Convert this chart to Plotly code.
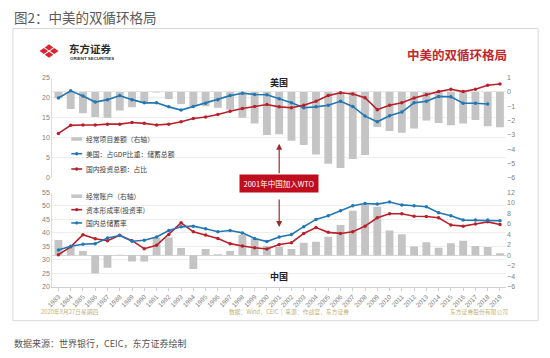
import plotly.graph_objects as go

W, H = 550, 358

# ---------------- data ----------------
years = list(range(1983, 2020))
year_labels = [str(y) for y in years]

# Top panel (United States)
us_current_account = [-0.45, -1.2, -1.48, -1.75, -1.8, -1.3, -1.07, -0.8, -0.05,
                      -0.5, -0.85, -1.0, -1.0, -1.1, -1.25, -1.8, -2.2, -3.0,
                      -2.95, -3.4, -3.7, -4.37, -5.0, -5.3, -4.67, -4.4, -2.44,
                      -2.73, -2.85, -2.55, -2.0, -2.16, -2.32, -2.2, -1.96, -2.4, -2.46]
us_saving = [19.9, 21.7, 20.4, 18.9, 19.5, 20.5, 19.5, 18.7, 18.7,
             17.7, 16.9, 17.8, 18.6, 19.5, 20.5, 21.1, 20.8, 20.7,
             19.7, 18.7, 17.5, 17.7, 18.1, 19.1, 17.8, 15.4, 14.0,
             15.5, 16.4, 18.7, 19.1, 20.3, 20.2, 18.6, 18.6, 18.4, None]
us_investment = [11.1, 13.1, 13.2, 13.2, 13.4, 13.4, 13.8, 13.6, 13.2,
                 13.4, 14.0, 14.8, 15.2, 15.8, 16.6, 17.3, 17.8, 18.3,
                 17.7, 17.5, 18.1, 19.1, 20.5, 21.2, 20.9, 20.0, 17.0,
                 18.1, 18.7, 19.9, 20.7, 21.5, 22.1, 21.5, 22.1, 23.1, 23.4]

# Bottom panel (China)
cn_current_account = [2.9, 1.7, 0.8, -3.5, -2.4, 0.1, -1.2, -1.2, 3.4,
                      3.4, 1.4, -2.6, 1.2, 0.2, 0.8, 3.9, 3.2, 1.8,
                      1.65, 1.2, 2.4, 2.6, 3.55, 5.8, 8.5, 9.7, 9.3,
                      4.75, 4.0, 1.7, 2.5, 1.46, 2.3, 2.8, 1.8, 1.6, 0.38]
cn_investment = [31.9, 34.8, 39.3, 37.8, 37.1, 39.1, 37.1, 34.1, 35.4,
                 39.4, 43.75, 40.4, 39.25, 37.9, 36.0, 35.1, 34.5, 34.0,
                 35.7, 36.35, 39.8, 42.0, 40.2, 39.8, 40.4, 42.5, 45.6,
                 47.1, 47.1, 46.2, 46.1, 45.6, 42.9, 42.5, 43.3, 44.1, 43.1]
cn_saving = [33.6, 35.0, 35.75, 36.0, 38.1, 39.0, 36.9, 37.25, 38.5,
             40.9, 42.25, 42.5, 41.5, 40.4, 40.9, 40.0, 37.9, 36.75,
             38.5, 39.4, 42.3, 45.0, 46.4, 48.2, 50.1, 50.9, 50.7,
             51.5, 50.4, 50.1, 49.7, 47.5, 46.4, 44.75, 44.75, 44.75, 44.5]

top_legend = ["经常项目差额（右轴）", "美国：占GDP比重：储蓄总额", "国内投资总额：占比"]
bottom_legend = ["经常账户（右轴）", "资本形成率(投资率)", "国内总储蓄率"]

# ---------------- styles ----------------
BLUE = "#2477b3"
RED = "#b8202b"
GRAY_BAR = "#c4c4c4"
CJK = "Noto Sans CJK SC"
TICKFONT = dict(family="Liberation Sans", size=7, color="#7f7f7f")


def X(px):
    return px / W


def Y(py):
    return 1 - py / H


x_dom = [X(46.8), X(505.6)]
top_dom = [Y(177.5), Y(75)]
bot_dom = [Y(288.3), Y(192.3)]
xr = [years[0] - 0.5, years[-1] + 0.5]

fig = go.Figure()

# top panel
fig.add_trace(go.Bar(x=years, y=us_current_account, xaxis="x", yaxis="y",
                     marker=dict(color=GRAY_BAR, line=dict(width=0)), width=0.64,
                     showlegend=False))
fig.add_trace(go.Scatter(x=years, y=us_saving, xaxis="x", yaxis="y2", mode="lines+markers",
                         line=dict(color=BLUE, width=1.6), marker=dict(size=3.5, color=BLUE),
                         showlegend=False))
fig.add_trace(go.Scatter(x=years, y=us_investment, xaxis="x", yaxis="y2", mode="lines+markers",
                         line=dict(color=RED, width=1.6), marker=dict(size=3.5, color=RED),
                         showlegend=False))
# bottom panel
fig.add_trace(go.Bar(x=years, y=cn_current_account, xaxis="x2", yaxis="y3",
                     marker=dict(color=GRAY_BAR, line=dict(width=0)), width=0.64,
                     showlegend=False))
fig.add_trace(go.Scatter(x=years, y=cn_investment, xaxis="x2", yaxis="y4", mode="lines+markers",
                         line=dict(color=RED, width=1.6), marker=dict(size=3.5, color=RED),
                         showlegend=False))
fig.add_trace(go.Scatter(x=years, y=cn_saving, xaxis="x2", yaxis="y4", mode="lines+markers",
                         line=dict(color=BLUE, width=1.6), marker=dict(size=3.5, color=BLUE),
                         showlegend=False))

fig.update_layout(
    width=W, height=H, autosize=False,
    margin=dict(l=0, r=0, t=0, b=0),
    paper_bgcolor="white", plot_bgcolor="rgba(0,0,0,0)",
    bargap=0.3,
    hovermode=False,
    xaxis=dict(domain=x_dom, anchor="y", range=xr, showticklabels=False, showgrid=False,
               zeroline=False, showline=False, ticks=""),
    yaxis=dict(domain=top_dom, anchor="x", side="right", range=[-6, 1], dtick=1,
               showgrid=False, zeroline=True, zerolinecolor="#e6e6e6", zerolinewidth=1,
               tickfont=TICKFONT, ticks="", showline=False),
    yaxis2=dict(overlaying="y", anchor="x", side="left", range=[0, 25], dtick=5,
                showgrid=True, gridcolor="#eeeeee", gridwidth=1, zeroline=False,
                showline=True, linecolor="#dcdcdc", linewidth=1,
                tickfont=TICKFONT, ticks=""),
    xaxis2=dict(domain=x_dom, anchor="y3", range=xr, tickmode="array", tickvals=years,
                ticktext=year_labels, tickangle=-45,
                tickfont=dict(family="Liberation Sans", size=6.5, color="#7f7f7f"),
                showgrid=False, zeroline=False, showline=True, linecolor="#cfcfcf",
                ticks="outside", ticklen=3, tickcolor="#cfcfcf"),
    yaxis3=dict(domain=bot_dom, anchor="x2", side="right", range=[-6, 12], dtick=2,
                showgrid=False, zeroline=True, zerolinecolor="#d6d6d6", zerolinewidth=1,
                tickfont=TICKFONT, ticks="", showline=False),
    yaxis4=dict(overlaying="y3", anchor="x2", side="left", range=[20, 55], dtick=5,
                showgrid=True, gridcolor="#eeeeee", gridwidth=1, zeroline=False,
                showline=True, linecolor="#dcdcdc", linewidth=1,
                tickfont=TICKFONT, ticks=""),
)

shapes = []
annotations = []

# outer frame
shapes.append(dict(type="rect", xref="paper", yref="paper", x0=X(7), x1=X(538), y0=Y(323), y1=Y(25),
                   line=dict(color="#d8d8d8", width=1), fillcolor="rgba(0,0,0,0)", layer="below"))

# logo icon: four diamonds tiling a larger diamond
cx, cy, RX, RY = 43.5, 48.0, 10.5, 7.5
for dx, dy in [(-RX / 2, 0), (RX / 2, 0), (0, -RY / 2), (0, RY / 2)]:
    px, py = cx + dx, cy + dy
    rx, ry = RX / 2 * 0.82, RY / 2 * 0.82
    path = (f"M {X(px - rx)} {Y(py)} L {X(px)} {Y(py - ry)} L {X(px + rx)} {Y(py)} "
            f"L {X(px)} {Y(py + ry)} Z")
    shapes.append(dict(type="path", xref="paper", yref="paper", path=path,
                       fillcolor="#d7262f", line=dict(width=0)))

annotations.append(dict(text="<b>东方证券</b>", xref="paper", yref="paper", x=X(62), y=Y(45),
                        xanchor="left", yanchor="middle", showarrow=False,
                        font=dict(family=CJK, size=10.5, color="#2b2b2b")))
annotations.append(dict(text="<b>ORIENT SECURITIES</b>", xref="paper", yref="paper", x=X(62.5),
                        y=Y(55.6), xanchor="left", yanchor="middle", showarrow=False,
                        font=dict(family="Liberation Sans", size=4.4, color="#333333")))

# titles
annotations.append(dict(text="图2：中美的双循环格局", xref="paper", yref="paper", x=X(6), y=Y(13),
                        xanchor="left", yanchor="middle", showarrow=False,
                        font=dict(family=CJK, size=13.5, color="#5a5a5a")))
annotations.append(dict(text="<b>中美的双循环格局</b>", xref="paper", yref="paper", x=X(509),
                        y=Y(51), xanchor="right", yanchor="middle", showarrow=False,
                        font=dict(family=CJK, size=12.5, color="#c0282d")))

# country labels
annotations.append(dict(text="<b>美国</b>", xref="x", yref="paper", x=2001, y=Y(80),
                        xanchor="center", yanchor="middle", showarrow=False,
                        font=dict(family=CJK, size=9, color="#222222")))
annotations.append(dict(text="<b>中国</b>", xref="x2", yref="paper", x=2001, y=Y(278),
                        xanchor="center", yanchor="middle", showarrow=False,
                        font=dict(family=CJK, size=9, color="#222222")))

# WTO box and arrows
annotations.append(dict(text="2001年中国加入WTO", xref="x", yref="paper", x=2001, y=Y(183),
                        xanchor="center", yanchor="middle", showarrow=False,
                        bgcolor="#c00d1e", borderpad=3, width=72,
                        font=dict(family=CJK, size=7.5, color="white")))
annotations.append(dict(text="", xref="x", yref="paper", x=2001, y=Y(142.5), ax=0, ay=31,
                        axref="pixel", ayref="pixel", showarrow=True, arrowhead=2,
                        arrowsize=1, arrowwidth=1.2, arrowcolor="#9e2a2f"))
annotations.append(dict(text="", xref="x2", yref="paper", x=2001, y=Y(227.5), ax=0, ay=-29,
                        axref="pixel", ayref="pixel", showarrow=True, arrowhead=2,
                        arrowsize=1, arrowwidth=1.2, arrowcolor="#9e2a2f"))


# custom legends
def legend_item(ypx, label, kind, color):
    if kind == "bar":
        shapes.append(dict(type="line", xref="paper", yref="paper", x0=X(66), x1=X(77),
                           y0=Y(ypx), y1=Y(ypx), line=dict(color=GRAY_BAR, width=3.5)))
    else:
        shapes.append(dict(type="line", xref="paper", yref="paper", x0=X(66), x1=X(77),
                           y0=Y(ypx), y1=Y(ypx), line=dict(color=color, width=1.6)))
        shapes.append(dict(type="circle", xref="paper", yref="paper", x0=X(69.8), x1=X(73.2),
                           y0=Y(ypx + 1.7), y1=Y(ypx - 1.7), fillcolor=color,
                           line=dict(width=0)))
    annotations.append(dict(text=label, xref="paper", yref="paper", x=X(79), y=Y(ypx),
                            xanchor="left", yanchor="middle", showarrow=False,
                            font=dict(family=CJK, size=6.8, color="#404040")))


legend_item(137.7, top_legend[0], "bar", GRAY_BAR)
legend_item(152.7, top_legend[1], "line", BLUE)
legend_item(168.3, top_legend[2], "line", RED)
legend_item(196.0, bottom_legend[0], "bar", GRAY_BAR)
legend_item(209.8, bottom_legend[1], "line", RED)
legend_item(223.3, bottom_legend[2], "line", BLUE)

# footers
FOOT = dict(family=CJK, size=5.8, color="#c4b273")
annotations.append(dict(text="2020年8月27日星期四", xref="paper", yref="paper", x=X(33), y=Y(314),
                        xanchor="left", yanchor="middle", showarrow=False, font=FOOT))
annotations.append(dict(text="数据：Wind，CEIC  |  来源：作战室，东方证券", xref="paper", yref="paper",
                        x=X(223), y=Y(314), xanchor="left", yanchor="middle", showarrow=False,
                        font=FOOT))
annotations.append(dict(text="东方证券股份有限公司", xref="paper", yref="paper", x=X(510), y=Y(314),
                        xanchor="right", yanchor="middle", showarrow=False, font=FOOT))
annotations.append(dict(text="数据来源：世界银行，CEIC，东方证券绘制", xref="paper", yref="paper",
                        x=X(6), y=Y(346), xanchor="left", yanchor="middle", showarrow=False,
                        font=dict(family=CJK, size=9, color="#555555")))

fig.update_layout(shapes=shapes, annotations=annotations)
fig.write_html("out.html",
               config={"displayModeBar": False, "staticPlot": True},
               post_script="document.body.style.margin='0';document.body.style.overflow='hidden';")
